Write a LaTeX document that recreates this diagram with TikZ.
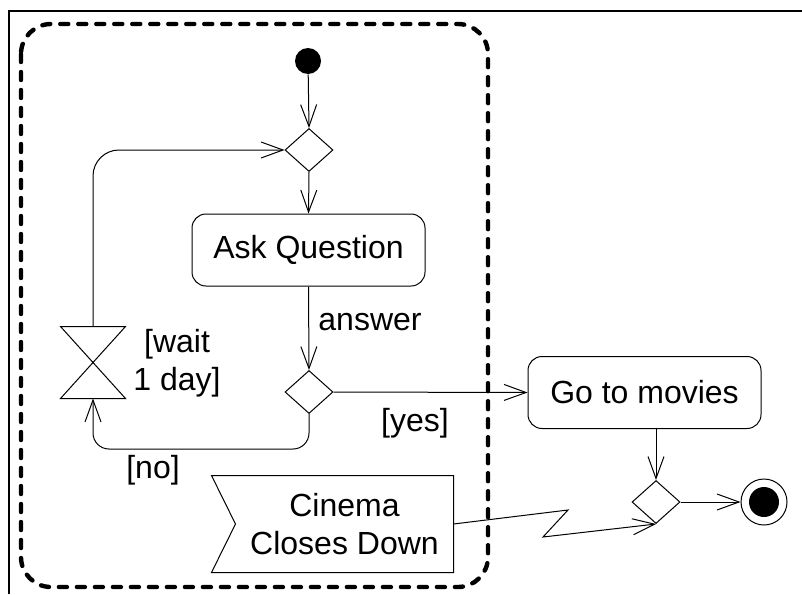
\documentclass[tikz,border=0pt]{standalone}
\usepackage{fontspec}
\setmainfont{Liberation Sans}
\usetikzlibrary{arrows.meta,shapes.geometric,calc}

\tikzset{
  action/.style={draw, rounded corners=7pt, minimum width=116.5pt, minimum height=36pt, inner sep=0pt},
  decision/.style={draw, diamond, inner sep=0pt, minimum width=24pt, minimum height=21.5pt},
  flow/.style={-{Straight Barb[length=11pt,width=8pt]}},
}

\begin{document}
\begin{tikzpicture}[x=0.5pt, y=-0.5pt, line width=0.5pt, font=\fontsize{16}{19}\selectfont]
        % Keep the canvas the size of the reference
        \useasboundingbox (0,0) rectangle (802,594);

        % Draw frame edges (top and left)
        \draw[line width=0.8pt] (9,594) -- (9,11) -- (802,11);

        % Start, decisions and actions
        \node[circle, fill, minimum size=13pt, inner sep=0pt] (start) at (308,61) {};
        \node[decision] (d1) at (309,150) {};
        \node[action] (ask) at (308.5,250) {Ask Question};
        \node[decision] (d2) at (309,392) {};
        \node[action] (go) at (644.5,392.5) {Go to movies};
        \node[decision] (d3) at (656,502) {};

        % Final node (ring with dot)
        \node[circle, draw, minimum size=23pt, inner sep=0pt] (stop) at (764,502) {};
        \fill (stop.center) circle (7.5pt);

        % Wait time event drawn as an hourglass
        \node[minimum width=32pt, minimum height=35.5pt, inner sep=0pt] (wait) at (93,362.5) {};
        \draw (wait.north west) -- (wait.north east) -- (wait.south west) -- (wait.south east) -- cycle;

        % Signal receipt with a notch on the left
        \node[align=center, minimum width=108.5pt, minimum height=48pt, inner sep=0pt] (cinema) at (344.5,524) {Cinema\\Closes Down};
        \draw (cinema.north east) -- (cinema.south east) -- ($(cinema.south west)+(-24,0)$)
              -- (cinema.west) -- ($(cinema.north west)+(-24,0)$) -- cycle;

        % Labels
        \node (answer) at (370,322) {answer};
        \node (yes) at (415,423) {[yes]};
        \node (no) at (153,470) {[no]};
        \node[align=center] (waitlbl) at (177,363) {[wait\\1 day]};

        % Flows
        \draw[flow] (start) -- (d1.north);
        \draw[flow] (d1.south) -- (ask.north);
        \draw[flow] (ask.south) -- (d2.north);
        \draw[flow] (d2.east) -- (go.west);
        \draw[flow, rounded corners=8pt] (d2.south) |- (93,449) -- (wait.south);
        \draw[flow, rounded corners=13pt] (wait.north) |- (d1.west);
        \draw[flow] (d3.north |- go.south) -- (d3.north);
        \draw[flow] (d3.east) -- (stop.west);
        \coordinate (zz1) at (568,510);
        \coordinate (zz2) at (543,537);
        \draw[flow] (cinema.east) -- (zz1) -- (zz2) -- (d3.south);

        % Dashed region round the loop
        \draw[line width=2.2pt, dash pattern=on 4pt off 5pt, line cap=round, rounded corners=15pt]
              (21,24) rectangle (488,587);
\end{tikzpicture}
\end{document}
